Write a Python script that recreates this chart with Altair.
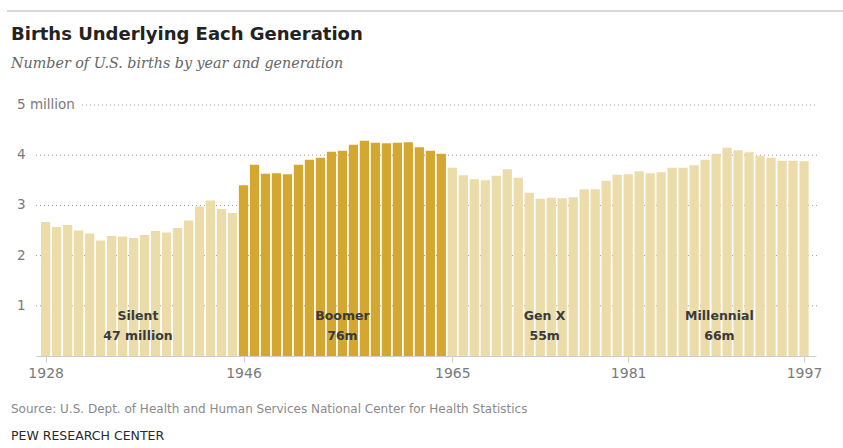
import altair as alt
import pandas as pd

years = list(range(1928, 1998))
births = [
    # Silent 1928-1945
    2.67, 2.57, 2.61, 2.50, 2.44, 2.30, 2.39, 2.38, 2.35, 2.41, 2.49, 2.46, 2.55, 2.70, 2.98, 3.10, 2.93, 2.85,
    # Boomer 1946-1964
    3.40, 3.81, 3.63, 3.64, 3.62, 3.81, 3.91, 3.95, 4.07, 4.09, 4.21, 4.29, 4.25, 4.24, 4.25, 4.26, 4.16, 4.09, 4.03,
    # Gen X 1965-1980
    3.75, 3.60, 3.52, 3.50, 3.59, 3.72, 3.55, 3.25, 3.13, 3.15, 3.14, 3.16, 3.32, 3.32, 3.49, 3.61,
    # Millennial 1981-1997
    3.62, 3.68, 3.64, 3.66, 3.75, 3.75, 3.80, 3.91, 4.03, 4.15, 4.10, 4.06, 3.99, 3.95, 3.89, 3.89, 3.88,
]
generations = ["Silent"] * 18 + ["Boomer"] * 19 + ["Gen X"] * 16 + ["Millennial"] * 17

gen_names = ["Silent", "Boomer", "Gen X", "Millennial"]
gen_totals = ["47 million", "76m", "55m", "66m"]
gen_label_year = [1936.4, 1955.0, 1973.4, 1989.3]

x_ticks = [1928, 1946, 1965, 1981, 1997]
y_ticks = [1, 2, 3, 4]

df = pd.DataFrame({"year": years, "births": births, "gen": generations})
lab = pd.DataFrame({"year": gen_label_year, "name": gen_names, "total": gen_totals})

FONT = "DejaVu Sans"
W, H = 780, 251
xscale = alt.Scale(domain=[1927.12, 1998.09], nice=False, zero=False)
yscale = alt.Scale(domain=[0, 5], nice=False)

grid = alt.Chart(pd.DataFrame({"v": y_ticks})).mark_rule(
    color="#9a9a9a", strokeDash=[1, 3], strokeWidth=1
).encode(y=alt.Y("v:Q", scale=yscale, axis=None), x=alt.value(0), x2=alt.value(W + 1))

grid5 = alt.Chart(pd.DataFrame({"v": [5]})).mark_rule(
    color="#9a9a9a", strokeDash=[1, 3], strokeWidth=1
).encode(y=alt.Y("v:Q", scale=yscale, axis=None), x=alt.value(46), x2=alt.value(W + 1))

ylabels = alt.Chart(pd.DataFrame({"v": y_ticks + [5], "t": ["1", "2", "3", "4", "5 million"]})).mark_text(
    align="left", baseline="middle", font=FONT, fontSize=13.5, color="#7a7a7a"
).encode(y=alt.Y("v:Q", scale=yscale, axis=None), x=alt.value(-19), text="t:N")

bars = alt.Chart(df).transform_calculate(
    x0="datum.year - 0.42", x1="datum.year + 0.42"
).mark_bar().encode(
    x=alt.X("x0:Q", scale=xscale, axis=alt.Axis(
        values=x_ticks, format="d", title=None, grid=False,
        domainColor="#cccccc", tickColor="#cccccc", tickSize=6,
        labelFont=FONT, labelFontSize=14, labelColor="#7a7a7a", labelPadding=4,
    )),
    x2="x1:Q",
    y=alt.Y("births:Q", scale=yscale, axis=None),
    y2=alt.datum(0),
    color=alt.Color("gen:N", scale=alt.Scale(
        domain=["Silent", "Boomer", "Gen X", "Millennial"],
        range=["#ecdcaa", "#d4a830", "#ecdcaa", "#ecdcaa"]), legend=None),
)

name_txt = alt.Chart(lab).mark_text(
    font=FONT, fontWeight="bold", fontSize=12.5, color="#3a3a3a"
).encode(x=alt.X("year:Q", scale=xscale), y=alt.value(211), text="name:N")

total_txt = alt.Chart(lab).mark_text(
    font=FONT, fontWeight="bold", fontSize=12.5, color="#3a3a3a"
).encode(x=alt.X("year:Q", scale=xscale), y=alt.value(231), text="total:N")

def txt(s, x, y, **kw):
    return alt.Chart(pd.DataFrame({"t": [s]})).mark_text(align="left", baseline="middle", **kw).encode(
        x=alt.value(x), y=alt.value(y), text="t:N")

title = txt("Births Underlying Each Generation", -25, -70, font=FONT, fontWeight="bold",
            fontSize=18, color="#222222")
subtitle = txt("Number of U.S. births by year and generation", -25, -41, font="DejaVu Serif",
               fontStyle="italic", fontSize=14.3, color="#666666")
source = txt("Source: U.S. Dept. of Health and Human Services National Center for Health Statistics", -25, 304,
             font=FONT, fontSize=12, color="#8a8a8a")
pew = txt("PEW RESEARCH CENTER", -25, 331, font=FONT, fontSize=12.5, color="#2a2a2a")

top_rule = alt.Chart(pd.DataFrame({"a": [0]})).mark_rule(color="#d8d8d8", strokeWidth=2).encode(
    x=alt.value(-29), x2=alt.value(W + 27), y=alt.value(-94))

chart = alt.layer(
    grid, grid5, bars, ylabels, name_txt, total_txt, title, subtitle, source, pew, top_rule
).properties(
    width=W, height=H,
    autosize=alt.AutoSizeParams(type="none"),
    padding={"left": 36, "top": 105, "right": 27, "bottom": 92},
    background="white",
).configure_view(stroke=None)

chart.save("out.html", embed_options={"renderer": "svg", "actions": False})
